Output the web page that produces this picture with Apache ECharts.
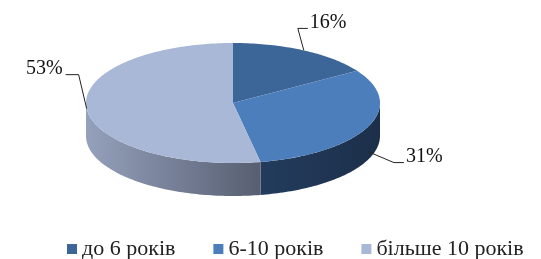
<!DOCTYPE html>
<html>
<head>
<meta charset="utf-8">
<script src="https://cdn.jsdelivr.net/npm/echarts@6/dist/echarts.min.js"></script>
<style>
    html, body { margin: 0; padding: 0; background: #fff; }
    #chart { width: 541px; height: 259px; }
</style>
</head>
<body>
<div id="chart"></div>
<script>
var categories = ['до 6 років', '6-10 років', 'більше 10 років'];
var values = [16, 31, 53];
var labels = ['16%', '31%', '53%'];

// кольори: верх та бічна стінка
var topColors = ['#3d6698', '#4b7ebb', '#a9b8d6'];
var sideColors = [['#2b4a70', '#1f3552'], ['#233c5d', '#1c2f4a'], ['#95a1bc', '#575e71']];

// геометрія "3D" еліпса
var pie = { cx: 233, cy: 103, rx: 147, ry: 60, depth: 33 };
// виноски: частка глибини для якоря, злам [dx, dy], горизонтальний відрізок
var leader = [
    { sink: 0, bend: [-6, -22], run: 10 },
    { sink: 0.75, bend: [26, 11], run: 10 },
    { sink: 0, bend: [-8, -34], run: -13 }
];

var total = values.reduce(function (a, b) { return a + b; }, 0);
var starts = [];
values.reduce(function (acc, v, i) { starts[i] = acc; return acc + v; }, 0);

function pt(t, dy) {
    return [pie.cx + pie.rx * Math.sin(t), pie.cy - pie.ry * Math.cos(t) + (dy || 0)];
}

function arc(t0, t1, dy) {
    var pts = [];
    var n = Math.max(2, Math.ceil((t1 - t0) / 0.02));
    for (var k = 0; k <= n; k++) {
        pts.push(pt(t0 + (t1 - t0) * k / n, dy));
    }
    return pts;
}

function makeRender(i) {
    return function (params, api) {
        var t0 = api.value(0) / total * Math.PI * 2;
        var t1 = (api.value(0) + api.value(1)) / total * Math.PI * 2;
        var children = [];

        // бічна стінка (лише видима передня частина)
        var a = Math.max(t0, Math.PI / 2);
        var b = Math.min(t1, Math.PI * 1.5);
        if (b > a) {
            var side = arc(a, b, 0).concat(arc(a, b, pie.depth).reverse());
            children.push({
                type: 'polygon',
                shape: { points: side },
                style: {
                    fill: {
                        type: 'linear', x: 0, y: 0, x2: 1, y2: 0,
                        colorStops: [
                            { offset: 0, color: sideColors[i][0] },
                            { offset: 1, color: sideColors[i][1] }
                        ]
                    }
                }
            });
        }

        // верхня грань
        children.push({
            type: 'polygon',
            shape: { points: [[pie.cx, pie.cy]].concat(arc(t0, t1, 0)) },
            style: { fill: topColors[i] }
        });

        // виноска з підписом
        var cfg = leader[i];
        var anchor = pt((t0 + t1) / 2, pie.depth * cfg.sink);
        var elbow = [anchor[0] + cfg.bend[0], anchor[1] + cfg.bend[1]];
        var end = [elbow[0] + cfg.run, elbow[1]];
        children.push({
            type: 'polyline',
            shape: { points: [anchor, elbow, end] },
            style: { stroke: '#222', lineWidth: 1, fill: null }
        });
        children.push({
            type: 'text',
            style: {
                text: labels[i],
                x: end[0] + (cfg.run > 0 ? 2 : -3),
                y: end[1] + 4,
                align: cfg.run > 0 ? 'left' : 'right',
                verticalAlign: 'bottom',
                fill: '#111',
                font: '20px "Liberation Serif"'
            }
        });

        return { type: 'group', children: children };
    };
}

var chart = echarts.init(document.getElementById('chart'));

chart.setOption({
    animation: false,
    legend: {
        data: categories,
        left: 62,
        top: 233,
        icon: 'rect',
        itemWidth: 10,
        itemHeight: 10,
        itemGap: 38,
        textStyle: { fontFamily: 'Liberation Serif', fontSize: 22, color: '#222' }
    },
    series: categories.map(function (name, i) {
        return {
            type: 'custom',
            name: name,
            coordinateSystem: 'none',
            itemStyle: { color: topColors[i] },
            renderItem: makeRender(i),
            data: [[starts[i], values[i]]]
        };
    })
});
</script>
</body>
</html>
